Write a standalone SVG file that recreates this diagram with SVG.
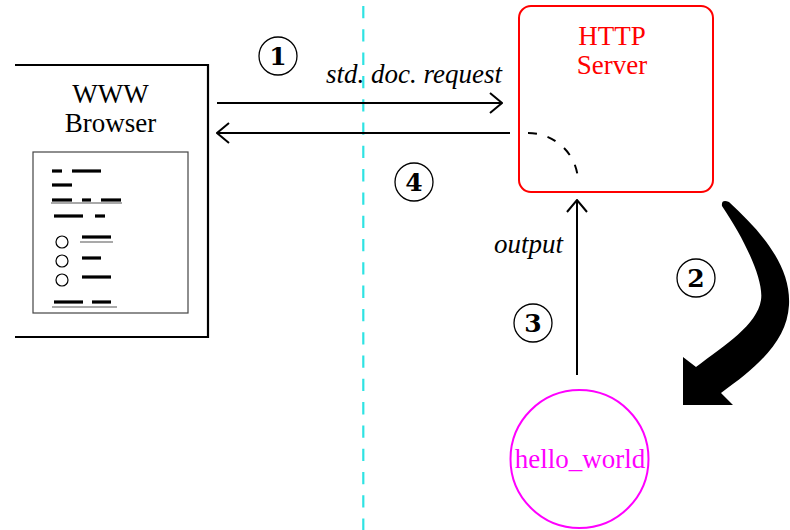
<svg xmlns="http://www.w3.org/2000/svg" width="790" height="530" viewBox="0 0 790 530">
<style>
.lbl{font-family:"Liberation Serif","Times New Roman",serif;font-size:27px;text-anchor:middle}
.it{font-family:"Liberation Serif","Times New Roman",serif;font-size:27px;font-style:italic}
.num{font-family:"DejaVu Serif",serif;font-size:25px;font-weight:bold;text-anchor:middle;fill:#000}
.badge{fill:#fff;stroke:#000;stroke-width:1.3}
.ln{fill:none;stroke:#000;stroke-width:2}
.bar{stroke:#000;stroke-width:3.2}
.ul{stroke:#555;stroke-width:1.2}
</style>
<defs>
<marker id="chev" viewBox="0 0 14 22" refX="13" refY="11" markerWidth="14" markerHeight="22" markerUnits="userSpaceOnUse" orient="auto">
<path d="M1,1 L13,11 L1,21" fill="none" stroke="#000" stroke-width="2"/>
</marker>
</defs>
<rect width="790" height="530" fill="#fff"/>
<line x1="363.3" y1="6" x2="363.3" y2="530" stroke="#2ee3e3" stroke-width="2.2" stroke-dasharray="12.3 11"/>
<g id="browser">
<path d="M15,65 H208 V337 H15" fill="none" stroke="#000" stroke-width="2.2"/>
<text class="lbl" x="110.5" y="103">WWW</text>
<text class="lbl" x="110.5" y="132">Browser</text>
<rect x="33" y="152" width="155" height="161" fill="none" stroke="#444" stroke-width="1.2"/>
<g class="bar">
<line x1="52" y1="171" x2="62" y2="171"/><line x1="72" y1="171" x2="101" y2="171"/>
<line x1="52" y1="185" x2="72" y2="185"/>
<line x1="52" y1="200" x2="72" y2="200"/><line x1="82" y1="200" x2="91" y2="200"/><line x1="101" y1="200" x2="121" y2="200"/>
<line x1="54" y1="216" x2="83" y2="216"/><line x1="95" y1="216" x2="105" y2="216"/>
<line x1="82" y1="237" x2="111" y2="237"/>
<line x1="82" y1="258" x2="101" y2="258"/>
<line x1="82" y1="277" x2="111" y2="277"/>
<line x1="54" y1="302" x2="83" y2="302"/><line x1="92" y1="302" x2="111" y2="302"/>
</g>
<g class="ul">
<line x1="51" y1="203" x2="122" y2="203"/>
<line x1="80" y1="242" x2="113" y2="242"/>
<line x1="52" y1="307" x2="117" y2="307"/>
</g>
<g fill="#fff" stroke="#000" stroke-width="1.2">
<circle cx="62" cy="242" r="6"/><circle cx="62" cy="261" r="6"/><circle cx="62" cy="280" r="6"/>
</g>
</g>
<g id="server">
<rect x="519" y="6" width="194" height="186" rx="12" fill="none" stroke="#f00" stroke-width="2"/>
<text class="lbl" x="612" y="45" fill="#f00">HTTP</text>
<text class="lbl" x="612" y="74" fill="#f00">Server</text>
</g>
<g id="hello_world">
<circle cx="579.5" cy="459" r="69" fill="none" stroke="#f0f" stroke-width="2"/>
<text class="lbl" x="580" y="468" fill="#f0f">hello_world</text>
</g>
<g id="connectors">
<line class="ln" x1="217" y1="103" x2="502" y2="103" marker-end="url(#chev)"/>
<line class="ln" x1="510" y1="133" x2="217" y2="133" marker-end="url(#chev)"/>
<path class="ln" d="M528,133 A50,49 0 0 1 578,182" stroke-dasharray="9 11"/>
<line class="ln" x1="577" y1="375" x2="577" y2="200" marker-end="url(#chev)"/>
<path d="M683,357 L696,367 C725,345 757,325 761,300 C764,280 745,240 722,206 Q721,199 729,202 C765,235 791,268 789,305 C787,340 760,365 721,393 L733,405 L683,405 Z" fill="#000"/>
<text class="it" x="502" y="83" text-anchor="end">std. doc. request</text>
<text class="it" x="563" y="253" text-anchor="end">output</text>
</g>
<g id="badges">
<circle class="badge" cx="278" cy="56" r="19"/><text class="num" x="278" y="65">1</text>
<circle class="badge" cx="696" cy="278" r="19"/><text class="num" x="696" y="287">2</text>
<circle class="badge" cx="533" cy="323" r="19"/><text class="num" x="533" y="332">3</text>
<circle class="badge" cx="414" cy="182" r="19"/><text class="num" x="414" y="191">4</text>
</g>
</svg>
